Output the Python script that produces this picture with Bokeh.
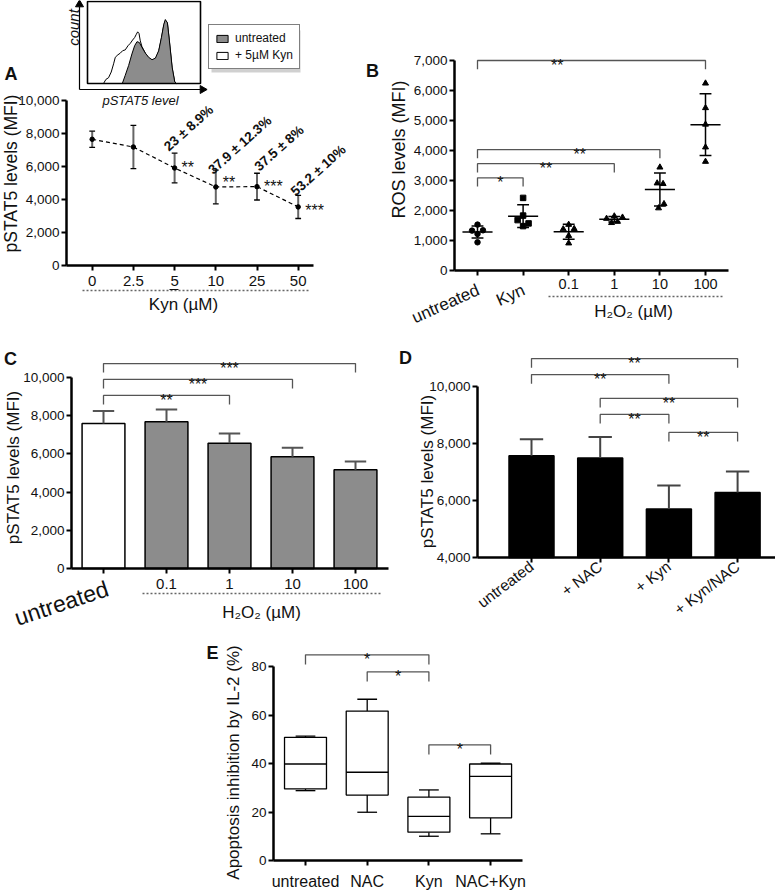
import math
from bokeh.plotting import figure
from bokeh.models import (Range1d, FixedTicker, NumeralTickFormatter, Legend, LegendItem, Spacer)
from bokeh.layouts import column, row
from bokeh.embed import file_html
from bokeh.resources import INLINE
from bokeh.core.properties import value

FONT = "Liberation Sans"
INK = "#111111"
BRACKET = "#555555"

# ---------------- data ----------------
# Panel A : pSTAT5 vs Kyn concentration
a_kyn = ["0", "2.5", "5", "10", "25", "50"]
a_mean = [7650, 7180, 5910, 4760, 4780, 3550]
a_sd = [490, 1310, 900, 1025, 810, 700]
a_stars = ["", "", "**", "**", "***", "***"]
a_pct = ["", "", "23 ± 8.9%", "37.9 ± 12.3%", "37.5 ± 8%", "53.2 ± 10%"]
a_yticks = [0, 2000, 4000, 6000, 8000, 10000]

# Inset histogram (pSTAT5 level 0-100, count 0-100)
h_untr_x = [30.8, 33.4, 36.4, 39.3, 41.7, 43.8, 45.9, 48.2, 51.2, 54.1, 57.1, 60.1, 63.0,
            65.4, 67.5, 68.9, 70.7, 72.5, 74.9, 77.2, 78.7]
h_untr_y = [0, 10, 22, 36, 46, 51, 50, 44, 37, 32, 29, 31, 40, 56, 72, 78, 74, 52, 20, 2, 0]
h_kyn_x = [14.2, 16.3, 18.6, 21.0, 23.1, 24.6, 26.9, 29.0, 31.1, 33.4, 35.8, 37.9, 39.9,
           41.7, 43.2, 44.4, 45.6, 46.7, 48.2, 51.2, 54.1, 57.1, 60.1, 63.0, 65.4, 67.5,
           68.9, 70.7, 72.5, 74.9, 77.2, 78.7]
h_kyn_y = [0, 5, 7, 14, 24, 32, 35, 37, 40, 41, 46, 49, 53, 56, 60, 63, 61, 52, 45, 37,
           31, 28, 30, 39, 55, 71, 77, 74, 51, 19, 2, 0]
h_labels = ["untreated", "+ 5µM Kyn"]

# Panel B : ROS levels
b_groups = ["untreated", "Kyn", "0.1", "1", "10", "100"]
b_untreated = [1530, 1330, 1340, 1220, 940]
b_kyn = [2420, 1830, 1680, 1570, 1480]
b_h2o2_01 = [1530, 1380, 1390, 1160, 910]
b_h2o2_1 = [1810, 1730, 1770, 1590, 1630]
b_h2o2_10 = [3440, 2910, 2890, 2220, 2080]
b_h2o2_100 = [6240, 5420, 4870, 4110, 3630]
b_jitter = [[0, -0.12, 0.12, 0, 0], [0, 0, -0.12, 0.12, 0], [0, -0.12, 0.12, 0, 0],
            [0, -0.17, 0.18, -0.06, 0.07], [0, -0.06, 0.07, 0.09, -0.03], [0, 0, 0, 0, 0]]
b_mean = [1280, 1810, 1290, 1710, 2700, 4860]
b_sd = [200, 380, 250, 90, 550, 1030]
b_markers = ["circle", "square", "triangle", "triangle", "triangle", "triangle"]
b_yticks = [0, 1000, 2000, 3000, 4000, 5000, 6000, 7000]
b_sig_pairs = [(0, 5), (0, 4), (0, 3), (0, 1)]
b_sig_text = ["**", "**", "**", "*"]
b_sig_y = [7000, 4030, 3560, 3090]
b_sig_star_x = [1.75, 2.24, 1.5, 0.5]
b_sig_leg = 290

# Panel C : pSTAT5 vs H2O2
c_groups = ["untreated", "0.1", "1", "10", "100"]
c_mean = [7590, 7680, 6560, 5850, 5170]
c_sd = [660, 650, 510, 470, 430]
c_yticks = [0, 2000, 4000, 6000, 8000, 10000]
c_sig_pairs = [(0, 4), (0, 3), (0, 2)]
c_sig_text = ["***", "***", "**"]
c_sig_y = [10730, 9900, 9060]
c_sig_leg = 470

# Panel D : pSTAT5 with NAC
d_groups = ["untreated", "+ NAC", "+ Kyn", "+ Kyn/NAC"]
d_mean = [7570, 7490, 5700, 6280]
d_sd = [580, 740, 830, 740]
d_yticks = [4000, 6000, 8000, 10000]
d_sig_pairs = [(0, 3), (0, 2), (1, 3), (1, 2), (2, 3)]
d_sig_text = ["**", "**", "**", "**", "**"]
d_sig_y = [10980, 10420, 9580, 9020, 8390]
d_sig_leg = 320

# Panel E : apoptosis inhibition (box plots)
e_groups = ["untreated", "NAC", "Kyn", "NAC+Kyn"]
e_min = [28.8, 19.9, 10.0, 11.0]
e_q1 = [29.5, 27.0, 11.7, 17.6]
e_med = [39.8, 36.4, 18.2, 34.7]
e_q3 = [50.8, 61.6, 26.1, 39.8]
e_max = [51.3, 66.5, 29.1, 40.1]
e_yticks = [0, 20, 40, 60, 80]
e_sig_pairs = [(0, 2), (1, 2), (2, 3)]
e_sig_text = ["*", "*", "*"]
e_sig_y = [84.8, 77.8, 47.7]
e_sig_leg = 4


# ---------------- helpers ----------------
class Map:
    """page-pixel -> data mapping for one panel"""
    def __init__(self, xpx0, xsp, ypx0, yval0, ypp):
        self.xpx0, self.xsp, self.ypx0, self.yval0, self.ypp = xpx0, xsp, ypx0, yval0, ypp

    def x(self, px):
        return (px - self.xpx0) / self.xsp

    def y(self, py):
        return self.yval0 + (self.ypx0 - py) / self.ypp


def style_axis(ax, tick_size="13.5px"):
    ax.axis_line_width = 2.5
    ax.axis_line_color = "black"
    ax.major_tick_line_width = 2
    ax.major_tick_line_color = "black"
    ax.major_tick_out = 5
    ax.major_tick_in = 0
    ax.minor_tick_out = 0
    ax.minor_tick_in = 0
    ax.major_label_text_font = FONT
    ax.major_label_text_font_size = tick_size
    ax.major_label_text_color = INK
    ax.major_label_standoff = 2


def make_fig(width, height, m, box, xaxis_at, yaxis_at, xb, yb):
    """box = page rectangle (left, right, top, bottom) covered by this figure"""
    l, r, t, b = box
    p = figure(width=width, height=height,
               x_range=Range1d(m.x(l), m.x(r)), y_range=Range1d(m.y(b), m.y(t)),
               output_backend="svg", toolbar_location=None,
               min_border_left=0, min_border_right=0, min_border_top=0, min_border_bottom=0)
    p.outline_line_color = None
    p.xgrid.visible = False
    p.ygrid.visible = False
    p.background_fill_color = "white"
    p.border_fill_color = "white"
    xa, ya = p.xaxis[0], p.yaxis[0]
    style_axis(xa)
    style_axis(ya)
    xa.fixed_location = xaxis_at
    ya.fixed_location = yaxis_at
    xa.bounds = xb
    ya.bounds = yb
    return p


def txt(p, m, px, py, text, size, style="normal", angle=0.0, align="center", baseline="middle"):
    p.text(x=[m.x(px)], y=[m.y(py)], text=[text], text_font=value(FONT), text_font_size=size,
           text_font_style=style, text_color=INK, angle=angle, text_align=align,
           text_baseline=baseline)


def hline(p, m, px0, px1, py, dash="solid", color="#666666", width=1.3):
    p.line([m.x(px0), m.x(px1)], [m.y(py), m.y(py)], line_dash=dash, line_color=color,
           line_width=width)


def brackets(p, pairs, texts, ys, leg, star_x=None, size="16px"):
    xs, yss = [], []
    for (i, j), yv in zip(pairs, ys):
        xs.append([i, i, j, j])
        yss.append([yv - leg, yv, yv, yv - leg])
    p.multi_line(xs, yss, line_color=BRACKET, line_width=1.3)
    sx = star_x if star_x else [(i + j) / 2 for i, j in pairs]
    p.text(x=sx, y=ys, text=texts, text_font=value(FONT), text_font_size=size,
           text_align="center", text_baseline="alphabetic", y_offset=5, text_color=INK)


def cat_ticks(ax, groups, shown=None):
    ax.ticker = FixedTicker(ticks=list(range(len(groups))))
    ax.major_label_overrides = {i: (g if (shown is None or i in shown) else "")
                                for i, g in enumerate(groups)}


ROW1, ROW2, ROW3 = 330, 300, 260

# ================= Panel A =================
mA = Map(91.7, 41.2, 265, 0, 0.0165)
pA = make_fig(358, ROW1, mA, (0, 358, 0, ROW1), 0, mA.x(66), (mA.x(66), mA.x(313)), (0, 10000))
yA = pA.yaxis[0]
yA.ticker = FixedTicker(ticks=a_yticks)
yA.formatter = NumeralTickFormatter(format="0,0")
xA = pA.xaxis[0]
cat_ticks(xA, a_kyn)
xA.major_label_text_font_size = "15px"
xA.major_label_standoff = 5
hline(pA, mA, 82, 310, 290, dash="2 2")
hline(pA, mA, 169, 178, 289, color=INK, width=1.2)  # underline of the 5 µM tick

ax_ = list(range(len(a_kyn)))
a_hi = [m + s for m, s in zip(a_mean, a_sd)]
a_lo = [m - s for m, s in zip(a_mean, a_sd)]
pA.line(ax_, a_mean, line_color="black", line_width=1.2, line_dash="4 3")
pA.segment(ax_, a_lo, ax_, a_hi, line_color="#666666", line_width=2)
capA = 0.07
for arr in (a_hi, a_lo):
    pA.segment([x - capA for x in ax_], arr, [x + capA for x in ax_], arr,
               line_color="black", line_width=1.3)
pA.scatter(ax_, a_mean, size=4.5, color="black")
idx = [i for i, s in enumerate(a_stars) if s]
pA.text(x=[ax_[i] for i in idx], y=[a_mean[i] for i in idx], text=[a_stars[i] for i in idx],
        x_offset=7, y_offset=[0, -4, 0, 4], text_align="left", text_baseline="middle",
        text_font=value(FONT), text_font_size="16px", text_color=INK)
pA.text(x=[ax_[i] for i in idx], y=[a_hi[i] for i in idx], text=[a_pct[i] for i in idx],
        x_offset=[14, 24, 22, 20], y_offset=-25, angle=0.73, text_align="center",
        text_baseline="middle", text_font=value(FONT), text_font_size="13.5px",
        text_font_style="bold", text_color=INK)
txt(pA, mA, 10.5, 73, "A", "18px", style="bold")
txt(pA, mA, 10.5, 173, "pSTAT5 levels (MFI)", "17.5px", angle=math.pi / 2)
txt(pA, mA, 183, 304, "Kyn (µM)", "17px")


# inset histogram drawn in its own ranges inside panel A
def hx(px):
    return (px - 87) / 1.13


def hy(py):
    return (83 - py) / 0.82


pA.extra_x_ranges = {"hx": Range1d(hx(0), hx(358))}
pA.extra_y_ranges = {"hy": Range1d(hy(ROW1), hy(0))}
H = dict(x_range_name="hx", y_range_name="hy")
pA.quad(left=[hx(211)], right=[hx(300)], top=[hy(30)], bottom=[hy(72)],
        fill_color="#c4c4c4", fill_alpha=0.8, line_color=None, **H)
r_kyn = pA.patch(h_kyn_x, h_kyn_y, fill_color="white", line_color="black", line_width=1, **H)
r_untr = pA.patch(h_untr_x, h_untr_y, fill_color="#8c8c8c", line_color="black", line_width=1, **H)
pA.quad(left=[0], right=[100], bottom=[0], top=[100], fill_color=None, line_color="black",
        line_width=1.6, **H)
pA.segment([hx(79), hx(79)], [hy(89), hy(89)], [hx(79), hx(200)], [hy(6), hy(89)],
           line_color="black", line_width=1.2, **H)
pA.scatter([hx(79), hx(202)], [hy(4), hy(89)], marker="triangle", size=8,
           angle=[0, -math.pi / 2], color="black", **H)
pA.text(x=[hx(73)], y=[hy(27)], text=["count"], angle=math.pi / 2, text_align="center",
        text_baseline="middle", text_font=value(FONT), text_font_size="15px",
        text_font_style="italic", text_color=INK, **H)
pA.text(x=[hx(140)], y=[hy(100)], text=["pSTAT5 level"], text_align="center",
        text_baseline="middle", text_font=value(FONT), text_font_size="13px",
        text_font_style="italic", text_color=INK, **H)
legA = Legend(items=[LegendItem(label=h_labels[0], renderers=[r_untr]),
                     LegendItem(label=h_labels[1], renderers=[r_kyn])],
              location=(208, ROW1 - 69))
legA.border_line_color = "black"
legA.border_line_width = 1.5
legA.padding = 6
legA.spacing = 3
legA.margin = 0
legA.glyph_width = 14
legA.glyph_height = 9
legA.label_height = 14
legA.label_standoff = 6
legA.label_text_font = FONT
legA.label_text_font_size = "12px"
legA.label_text_color = INK
legA.background_fill_alpha = 1.0
pA.add_layout(legA)

# ================= Panel B =================
mB = Map(477, 45.6, 270, 0, 0.03)
pB = make_fig(417, ROW1, mB, (358, 775, 0, ROW1), 0, mB.x(454), (mB.x(454), mB.x(728)), (0, 7000))
yB = pB.yaxis[0]
yB.ticker = FixedTicker(ticks=b_yticks)
yB.formatter = NumeralTickFormatter(format="0,0")
xB = pB.xaxis[0]
cat_ticks(xB, b_groups, shown={2, 3, 4, 5})
xB.major_label_text_font_size = "14.5px"
xB.major_label_standoff = 3
hline(pB, mB, 548, 722, 296, dash="2 2")

b_values = [b_untreated, b_kyn, b_h2o2_01, b_h2o2_1, b_h2o2_10, b_h2o2_100]
for i, (vals, jit, mk) in enumerate(zip(b_values, b_jitter, b_markers)):
    pB.scatter([i + j for j in jit], vals, marker=mk, size=6 if mk == "triangle" else 5.5,
               color="black")
bx = list(range(len(b_groups)))
b_hi = [m + s for m, s in zip(b_mean, b_sd)]
b_lo = [m - s for m, s in zip(b_mean, b_sd)]
pB.segment([x - 0.33 for x in bx], b_mean, [x + 0.33 for x in bx], b_mean,
           line_color="black", line_width=1.5)
pB.segment(bx, b_lo, bx, b_hi, line_color="black", line_width=1.5)
for arr in (b_hi, b_lo):
    pB.segment([x - 0.13 for x in bx], arr, [x + 0.13 for x in bx], arr,
               line_color="black", line_width=1.5)
brackets(pB, b_sig_pairs, b_sig_text, b_sig_y, b_sig_leg, star_x=b_sig_star_x)
pB.text(x=[i - 3 / 45.6 for i in (0, 1)], y=[mB.y(280)] * 2, text=b_groups[:2],
        angle=0.42, text_align="right", text_baseline="top", text_font=value(FONT),
        text_font_size="17px", text_color=INK)
txt(pB, mB, 633, 311, "H₂O₂ (µM)", "17px")
txt(pB, mB, 372, 70, "B", "18px", style="bold")
txt(pB, mB, 398, 149, "ROS levels (MFI)", "18px", angle=math.pi / 2)

# ================= Panel C =================
mC = Map(103, 63, 568, 0, 0.0191)
pC = make_fig(390, ROW2, mC, (0, 390, ROW1, ROW1 + ROW2), 0, mC.x(71), (mC.x(71), mC.x(388)),
              (0, 10000))
yC = pC.yaxis[0]
yC.ticker = FixedTicker(ticks=c_yticks)
yC.formatter = NumeralTickFormatter(format="0,0")
xC = pC.xaxis[0]
cat_ticks(xC, c_groups, shown={1, 2, 3, 4})
xC.major_label_text_font_size = "15px"
xC.major_label_standoff = 5
hline(pC, mC, 142, 382, 593, dash="2 2")

cx = list(range(len(c_groups)))
c_fill = ["white"] + ["#8c8c8c"] * (len(c_groups) - 1)
c_hi = [m + s for m, s in zip(c_mean, c_sd)]
pC.vbar(x=cx, top=c_mean, bottom=0, width=0.68, fill_color=c_fill, line_color="black",
        line_width=1.5)
pC.segment(cx, c_mean, cx, c_hi, line_color="#555555", line_width=2)
pC.segment([x - 0.17 for x in cx], c_hi, [x + 0.17 for x in cx], c_hi,
           line_color="#555555", line_width=2)
brackets(pC, c_sig_pairs, c_sig_text, c_sig_y, c_sig_leg)
pC.text(x=[0.0], y=[mC.y(575)], text=[c_groups[0]], angle=0.32, text_align="right",
        text_baseline="top", text_font=value(FONT), text_font_size="23px", text_color=INK)
txt(pC, mC, 261, 612, "H₂O₂ (µM)", "17px")
txt(pC, mC, 10, 358, "C", "18px", style="bold")
txt(pC, mC, 12.5, 467, "pSTAT5 levels (MFI)", "17px", angle=math.pi / 2)

# ================= Panel D =================
mD = Map(531, 68.7, 557, 4000, 0.0285)
pD = make_fig(385, ROW2, mD, (390, 775, ROW1, ROW1 + ROW2), 4000, mD.x(477),
              (mD.x(477), mD.x(775)), (4000, 10000))
yD = pD.yaxis[0]
yD.ticker = FixedTicker(ticks=d_yticks)
yD.formatter = NumeralTickFormatter(format="0,0")
xD = pD.xaxis[0]
cat_ticks(xD, d_groups)
xD.major_label_text_font_size = "15.5px"
xD.major_label_orientation = 0.65
xD.major_label_standoff = 2

dx = list(range(len(d_groups)))
d_hi = [m + s for m, s in zip(d_mean, d_sd)]
pD.vbar(x=dx, top=d_mean, bottom=d_yticks[0], width=0.655, fill_color="black",
        line_color="black", line_width=1.5)
pD.segment(dx, d_mean, dx, d_hi, line_color="#444444", line_width=2)
pD.segment([x - 0.17 for x in dx], d_hi, [x + 0.17 for x in dx], d_hi,
           line_color="#444444", line_width=2)
brackets(pD, d_sig_pairs, d_sig_text, d_sig_y, d_sig_leg)
txt(pD, mD, 405, 357, "D", "18px", style="bold")
txt(pD, mD, 427, 471, "pSTAT5 levels (MFI)", "17px", angle=math.pi / 2)

# ================= Panel E =================
mE = Map(305, 61.7, 860, 0, 2.425)
pE = make_fig(360, ROW3, mE, (200, 560, ROW1 + ROW2, 890), 0, mE.x(273),
              (mE.x(273), mE.x(522)), (0, 80))
yE = pE.yaxis[0]
yE.ticker = FixedTicker(ticks=e_yticks)
xE = pE.xaxis[0]
cat_ticks(xE, e_groups)
xE.major_label_text_font_size = "16px"
xE.major_label_standoff = 7

ex = list(range(len(e_groups)))
pE.segment(ex, e_q3, ex, e_max, line_color="black", line_width=1.3)
pE.segment(ex, e_q1, ex, e_min, line_color="black", line_width=1.3)
for arr in (e_max, e_min):
    pE.segment([x - 0.16 for x in ex], arr, [x + 0.16 for x in ex], arr,
               line_color="black", line_width=1.3)
pE.quad(left=[x - 0.34 for x in ex], right=[x + 0.34 for x in ex], bottom=e_q1, top=e_q3,
        fill_color="white", line_color="black", line_width=1.3)
pE.segment([x - 0.34 for x in ex], e_med, [x + 0.34 for x in ex], e_med,
           line_color="black", line_width=1.3)
brackets(pE, e_sig_pairs, e_sig_text, e_sig_y, e_sig_leg)
txt(pE, mE, 212, 652, "E", "18px", style="bold")
txt(pE, mE, 233, 762, "Apoptosis inhibition by IL-2 (%)", "17px", angle=math.pi / 2)

layout = column(row(pA, pB), row(pC, pD), row(Spacer(width=200, height=ROW3), pE))
open("out.html", "w").write(file_html(layout, INLINE))
